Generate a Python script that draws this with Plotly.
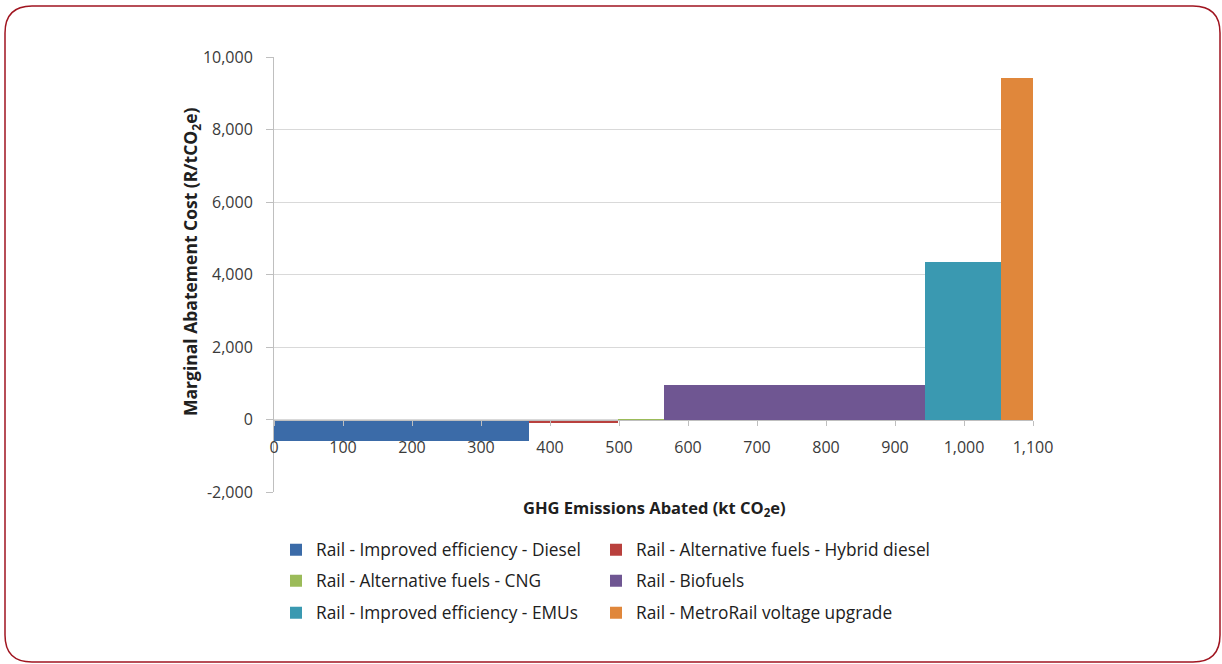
import plotly.graph_objects as go

# ---- data ----
names = [
    "Rail - Improved efficiency - Diesel",
    "Rail - Alternative fuels - Hybrid diesel",
    "Rail - Alternative fuels - CNG",
    "Rail - Biofuels",
    "Rail - Improved efficiency - EMUs",
    "Rail - MetroRail voltage upgrade",
]
abated = [370, 128, 67, 378, 111, 46]          # kt CO2e (bar widths)
cost = [-580, -100, -30, 940, 4350, 9430]      # R/tCO2e (bar heights)
colors = ["#3b6ba8", "#b9403d", "#9bbb59", "#6f5692", "#3a99b1", "#e0873b"]

x_tickvals = [0, 100, 200, 300, 400, 500, 600, 700, 800, 900, 1000, 1100]
x_ticktext = ["0", "100", "200", "300", "400", "500", "600", "700", "800", "900", "1,000", "1,100"]
y_tickvals = [-2000, 0, 2000, 4000, 6000, 8000, 10000]
y_ticktext = ["-2,000", "0", "2,000", "4,000", "6,000", "8,000", "10,000"]

# ---- layout geometry (screen pixels) ----
W, H = 1222, 664
L, R, T, B = 274, 1033, 57, 492
YMIN, YMAX = -2000, 10000
FONT = "Open Sans"
TXT = "#3a3a3a"


def px(xp):
    return (xp - L) / (R - L)


def py(yp):
    return (B - yp) / (B - T)


starts = []
acc = 0
for w in abated:
    starts.append(acc)
    acc += w

# legend grid: 2 columns x 3 rows, one legend box per entry
leg_cols_px = [276, 596]
leg_rows_px = [550, 581, 613]

fig = go.Figure()
legend_layouts = {}
for i in range(len(names)):
    lid = "legend" if i == 0 else f"legend{i + 1}"
    fig.add_trace(go.Bar(
        x=[starts[i]], y=[cost[i]], width=[abated[i]], offset=0,
        name=names[i], marker=dict(color=colors[i], line=dict(width=0)),
        legend=lid,
    ))
    legend_layouts[lid] = dict(
        orientation="h", xanchor="left", yanchor="middle",
        x=px(leg_cols_px[i % 2]), y=py(leg_rows_px[i // 2]),
        font=dict(family=FONT, size=17.3, color="#202020"),
        bgcolor="rgba(0,0,0,0)",
    )

zero_pos = (0 - YMIN) / (YMAX - YMIN)

# rounded border
lf, rt, tp, bt, r = 5, 1220, 6, 662, 27
pts = [
    ("M", lf + r, tp), ("L", rt - r, tp), ("Q", rt, tp, rt, tp + r),
    ("L", rt, bt - r), ("Q", rt, bt, rt - r, bt), ("L", lf + r, bt),
    ("Q", lf, bt, lf, bt - r), ("L", lf, tp + r), ("Q", lf, tp, lf + r, tp),
]
path = ""
for p in pts:
    if p[0] == "Q":
        path += f"Q{px(p[1]):.5f},{py(p[2]):.5f} {px(p[3]):.5f},{py(p[4]):.5f} "
    else:
        path += f"{p[0]}{px(p[1]):.5f},{py(p[2]):.5f} "
path += "Z"

fig.update_layout(
    width=W, height=H,
    margin=dict(l=L, r=W - R, t=T, b=H - B, autoexpand=False),
    paper_bgcolor="white", plot_bgcolor="white",
    barmode="overlay", bargap=0,
    font=dict(family=FONT, size=16, color=TXT),
    xaxis=dict(range=[0, 1100], tickvals=x_tickvals, ticktext=x_ticktext,
               anchor="free", position=zero_pos, showgrid=False, zeroline=False,
               showline=True, linecolor="#bfbfbf", linewidth=1,
               ticks="outside", ticklen=5, tickcolor="#bfbfbf",
               ticklabelstandoff=8,
               tickfont=dict(family=FONT, size=16, color=TXT)),
    yaxis=dict(range=[YMIN, YMAX], tickvals=y_tickvals, ticktext=y_ticktext,
               showgrid=True, gridcolor="#d9d9d9", gridwidth=1, zeroline=False,
               showline=True, linecolor="#bfbfbf", linewidth=1,
               ticks="outside", ticklen=7, tickcolor="#bfbfbf",
               ticklabelstandoff=10,
               tickfont=dict(family=FONT, size=16, color=TXT)),
    showlegend=True,
    shapes=[dict(type="path", xref="paper", yref="paper", path=path,
                 line=dict(color="#a01520", width=1.5), fillcolor="rgba(0,0,0,0)",
                 layer="above")],
    annotations=[
        dict(text="Marginal Abatement Cost (R/tCO<sub>2</sub>e)", textangle=-90,
             xref="paper", yref="paper", x=px(191), y=py(262),
             xanchor="center", yanchor="middle", showarrow=False,
             font=dict(family=FONT, size=17.5, color="#202020", weight="bold")),
        dict(text="GHG Emissions Abated (kt CO<sub>2</sub>e)",
             xref="paper", yref="paper", x=px(654), y=py(508),
             xanchor="center", yanchor="middle", showarrow=False,
             font=dict(family=FONT, size=16.5, color="#202020", weight="bold")),
    ],
)
fig.update_layout(**legend_layouts)

fig.write_html(
    "out.html",
    config={"displayModeBar": False},
    post_script="document.body.style.margin='0';document.body.style.overflow='hidden';",
)
